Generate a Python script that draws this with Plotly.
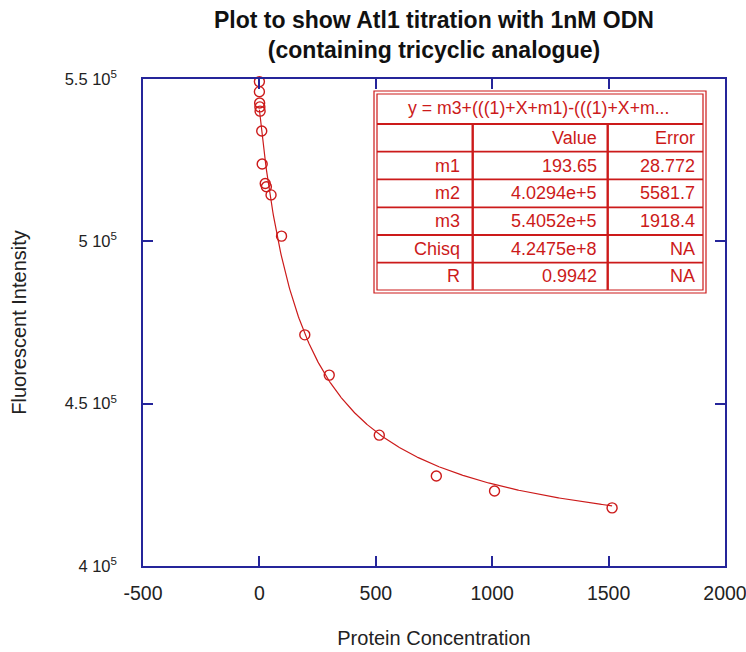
import numpy as np
import plotly.graph_objects as go

# ---------------- data ----------------
conc = [0, 0, 1, 2, 3, 10, 12, 25, 30, 50, 95, 195, 300, 515, 760, 1010, 1515]
intensity = [5.492e5, 5.461e5, 5.426e5, 5.414e5, 5.401e5, 5.340e5, 5.238e5,
             5.178e5, 5.168e5, 5.143e5, 5.016e5, 4.712e5, 4.588e5, 4.403e5,
             4.277e5, 4.231e5, 4.179e5]

x_ticks = [-500, 0, 500, 1000, 1500, 2000]
x_ticktext = ["-500", "0", "500", "1000", "1500", "2000"]
y_ticks = [4.0e5, 4.5e5, 5.0e5, 5.5e5]
y_ticktext = ["4 10<sup>5</sup>", "4.5 10<sup>5</sup>", "5 10<sup>5</sup>", "5.5 10<sup>5</sup>"]

fit_equation = "y = m3+(((1)+X+m1)-(((1)+X+m..."
param_names = ["m1", "m2", "m3", "Chisq", "R"]
param_values = ["193.65", "4.0294e+5", "5.4052e+5", "4.2475e+8", "0.9942"]
param_errors = ["28.772", "5581.7", "1918.4", "NA", "NA"]

# fitted parameters (from the table)
m1 = float(param_values[0])
m2 = float(param_values[1])
m3 = float(param_values[2])

xf = np.linspace(0, max(conc), 500)
s = 1 + xf + m1
yf = m3 + (s - np.sqrt(s ** 2 - 4 * xf)) / 2 * (m2 - m3)

# ---------------- style ----------------
W, H = 746, 652
L, R, T, B = 143, 725, 79, 566
AXC = "#25259a"
RED = "#cc1a1a"
FONT = "Liberation Sans, Arial, sans-serif"

def px(x):
    return (x - L) / (R - L)

def py(y):
    return (B - y) / (B - T)

fig = go.Figure()
fig.add_trace(go.Scatter(x=xf, y=yf, mode="lines",
                         line=dict(color=RED, width=1.2),
                         hoverinfo="skip", showlegend=False))
fig.add_trace(go.Scatter(x=conc, y=intensity, mode="markers",
                         marker=dict(symbol="circle-open", size=10,
                                     color=RED, line=dict(width=1.4, color=RED)),
                         cliponaxis=False, showlegend=False))

# ---------------- table ----------------
shapes = []
def rect(x0, y0, x1, y1, w=1.2):
    shapes.append(dict(type="rect", xref="paper", yref="paper",
                       x0=px(x0), x1=px(x1), y0=py(y1), y1=py(y0),
                       line=dict(color=RED, width=w), fillcolor="rgba(0,0,0,0)"))
def line(x0, y0, x1, y1, w=1.8):
    shapes.append(dict(type="line", xref="paper", yref="paper",
                       x0=px(x0), x1=px(x1), y0=py(y0), y1=py(y1),
                       line=dict(color=RED, width=w)))

tx0, ty0, tx1, ty1 = 374, 91, 706, 293
shapes.append(dict(type="rect", xref="paper", yref="paper",
                   x0=px(tx0), x1=px(tx1), y0=py(ty1), y1=py(ty0),
                   line=dict(color=RED, width=1.2), fillcolor="white", layer="above"))
rect(tx0 + 3, ty0 + 3, tx1 - 3, ty1 - 3)
row_lines = [124, 151.7, 179.3, 207.3, 235, 262.7, 290]
for yy in row_lines[:-1]:
    line(tx0 + 3, yy, tx1 - 3, yy)
col_lines = [472.7, 607.7]
for xx in col_lines:
    line(xx, 124, xx, 290, w=2.4)

annotations = []
annotations.append(dict(text=fit_equation, xref="paper", yref="paper",
                        x=px(538), y=py(108), xanchor="center", yanchor="middle",
                        showarrow=False, font=dict(family=FONT, size=17.7, color=RED)))
rows = [("", "Value", "Error")] + list(zip(param_names, param_values, param_errors))
col_right = [462, 599, 697]
for i, row in enumerate(rows):
    yc = (row_lines[i] + row_lines[i + 1]) / 2
    for j, txt in enumerate(row):
        if txt:
            annotations.append(dict(text=txt, xref="paper", yref="paper",
                                    x=px(col_right[j]), y=py(yc), xanchor="right",
                                    yanchor="middle", showarrow=False,
                                    font=dict(family=FONT, size=18, color=RED)))

fig.update_layout(
    width=W, height=H,
    margin=dict(l=L, r=W - R, t=T, b=H - B, autoexpand=False),
    paper_bgcolor="white", plot_bgcolor="white",
    font=dict(family=FONT, size=18, color="#222222"),
    title=dict(text="<b>Plot to show Atl1 titration with 1nM ODN</b><br><b>(containing tricyclic analogue)</b>",
               x=(L + R) / 2 / W, xanchor="center", y=1 - 28 / H, yanchor="middle",
               font=dict(family=FONT, size=23, color="#111111")),
    xaxis=dict(range=[-500, 2000], tickvals=x_ticks, ticktext=x_ticktext,
               ticks="inside", ticklen=10,
               tickcolor=AXC, tickwidth=1.5, showline=True, linecolor=AXC, linewidth=1.5,
               mirror="allticks", showgrid=False, zeroline=False, automargin=False,
               ticklabelstandoff=9, ticklabeloverflow="allow",
               tickfont=dict(family=FONT, size=19.5, color="#222222"),
               title=dict(text="Protein Concentration", standoff=28,
                          font=dict(family=FONT, size=20, color="#222222"))),
    yaxis=dict(range=[4.0e5, 5.5e5], tickvals=y_ticks, ticktext=y_ticktext,
               ticks="inside", ticklen=10, tickcolor=AXC, tickwidth=1.5,
               showline=True, linecolor=AXC, linewidth=1.5, mirror="allticks",
               showgrid=False, zeroline=False, ticklabelstandoff=21, automargin=False,
               tickfont=dict(family=FONT, size=16.5, color="#222222"),
               title=dict(text="Fluorescent Intensity", standoff=33,
                          font=dict(family=FONT, size=20, color="#222222"))),
    shapes=shapes, annotations=annotations,
)

fig.write_html("out.html", config={"displayModeBar": False},
               post_script="document.body.style.margin='0px';")
